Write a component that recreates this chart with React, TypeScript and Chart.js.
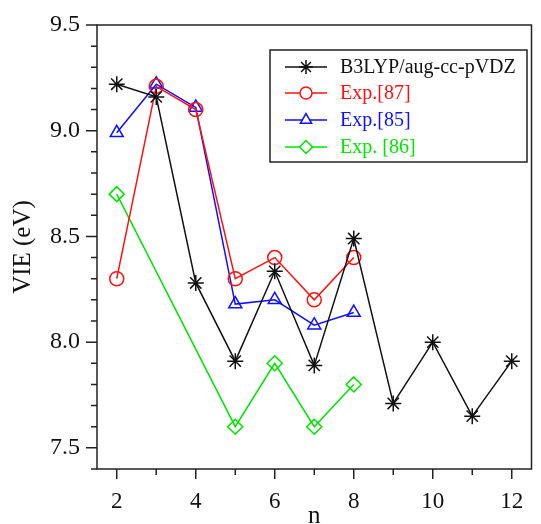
import { useEffect, useRef } from "react";
import { Chart, registerables } from "chart.js";

Chart.register(...registerables);

// ---- data ----
const b3lypN = [2, 3, 4, 5, 6, 7, 8, 9, 10, 11, 12];
const b3lypVIE = [9.22, 9.16, 8.28, 7.91, 8.335, 7.89, 8.49, 7.71, 8.0, 7.65, 7.91];
const exp87N = [2, 3, 4, 5, 6, 7, 8];
const exp87VIE = [8.3, 9.21, 9.1, 8.3, 8.4, 8.2, 8.4];
const exp85N = [2, 3, 4, 5, 6, 7, 8];
const exp85VIE = [8.99, 9.22, 9.11, 8.18, 8.2, 8.08, 8.14];
const exp86N = [2, 5, 6, 7, 8];
const exp86VIE = [8.7, 7.6, 7.9, 7.6, 7.8];
const xTicks = [2, 4, 6, 8, 10, 12];
const xMinorTicks = [3, 5, 7, 9, 11];
const yTicks = [7.5, 8.0, 8.5, 9.0, 9.5];
const yMinorTicks = [7.4, 7.6, 7.7, 7.8, 7.9, 8.1, 8.2, 8.3, 8.4, 8.6, 8.7, 8.8, 8.9, 9.1, 9.2, 9.3, 9.4];
const seriesLabels = ["B3LYP/aug-cc-pVDZ", "Exp.[87]", "Exp.[85]", "Exp. [86]"];

const BLACK = "#111111";
const RED = "#ff1010";
const BLUE = "#1010ff";
const GREEN = "#00e600";
const FONT = "'Liberation Serif', 'Times New Roman', serif";

const seriesColors = [BLACK, RED, BLUE, GREEN];
const seriesStyles = ["star", "circle", "triangle", "rectRot"];
const seriesRadius = [8, 7, 7.5, 7.5];

function toPts(xs: number[], ys: number[]) {
  return xs.map((x, i) => ({ x, y: ys[i] }));
}

function drawMarker(ctx: CanvasRenderingContext2D, style: string, x: number, y: number, r: number) {
  ctx.beginPath();
  if (style === "star") {
    for (let k = 0; k < 4; k++) {
      const a = (k * Math.PI) / 4;
      ctx.moveTo(x - Math.cos(a) * r, y - Math.sin(a) * r);
      ctx.lineTo(x + Math.cos(a) * r, y + Math.sin(a) * r);
    }
    ctx.stroke();
    return;
  }
  if (style === "circle") {
    ctx.arc(x, y, r, 0, Math.PI * 2);
  } else if (style === "triangle") {
    let rad = 0;
    ctx.moveTo(x + Math.sin(rad) * r, y - Math.cos(rad) * r);
    rad += (2 * Math.PI) / 3;
    ctx.lineTo(x + Math.sin(rad) * r, y - Math.cos(rad) * r);
    rad += (2 * Math.PI) / 3;
    ctx.lineTo(x + Math.sin(rad) * r, y - Math.cos(rad) * r);
    ctx.closePath();
  } else if (style === "rectRot") {
    ctx.moveTo(x - r, y);
    ctx.lineTo(x, y - r);
    ctx.lineTo(x + r, y);
    ctx.lineTo(x, y + r);
    ctx.closePath();
  }
  ctx.fillStyle = "#ffffff";
  ctx.fill();
  ctx.stroke();
}

const framePlugin = {
  id: "framePlugin",
  afterDraw(chart: any) {
    const { ctx, chartArea } = chart;
    const { left, right, top, bottom } = chartArea;
    const xs = chart.scales.x;
    const ys = chart.scales.y;
    ctx.save();
    ctx.strokeStyle = "#222222";
    ctx.lineWidth = 1.5;
    ctx.strokeRect(left, top, right - left, bottom - top);
    ctx.beginPath();
    for (const v of yTicks) {
      const p = ys.getPixelForValue(v);
      ctx.moveTo(left - 11, p);
      ctx.lineTo(left, p);
    }
    for (const v of yMinorTicks) {
      const p = ys.getPixelForValue(v);
      ctx.moveTo(left - 6, p);
      ctx.lineTo(left, p);
    }
    for (const v of xTicks) {
      const p = xs.getPixelForValue(v);
      ctx.moveTo(p, bottom);
      ctx.lineTo(p, bottom + 10);
    }
    for (const v of xMinorTicks) {
      const p = xs.getPixelForValue(v);
      ctx.moveTo(p, bottom);
      ctx.lineTo(p, bottom + 6);
    }
    ctx.stroke();

    // legend
    const lx = 270, ly = 50, lw = 257, lh = 112;
    ctx.lineWidth = 1.5;
    ctx.strokeStyle = "#222222";
    ctx.strokeRect(lx, ly, lw, lh);
    const rows = [67, 93, 120, 147];
    ctx.font = `20px ${FONT}`;
    ctx.textBaseline = "middle";
    ctx.textAlign = "left";
    for (let i = 0; i < 4; i++) {
      const yy = rows[i];
      ctx.strokeStyle = seriesColors[i];
      ctx.lineWidth = 1.5;
      ctx.beginPath();
      ctx.moveTo(285, yy);
      ctx.lineTo(327, yy);
      ctx.stroke();
      drawMarker(ctx, seriesStyles[i], 306, yy, seriesRadius[i] - 1);
      ctx.fillStyle = seriesColors[i];
      ctx.fillText(seriesLabels[i], 340, yy + 1);
    }
    ctx.restore();
  },
};

export default function App() {
  const ref = useRef<HTMLCanvasElement | null>(null);
  useEffect(() => {
    if (!ref.current) return;
    const mk = (label: string, data: any[], i: number) => ({
      label,
      data,
      borderColor: seriesColors[i],
      backgroundColor: "rgba(255,255,255,0)",
      borderWidth: 1.5,
      pointStyle: seriesStyles[i],
      pointRadius: seriesRadius[i],
      pointBorderWidth: 1.5,
      pointBorderColor: seriesColors[i],
      pointBackgroundColor: "rgba(255,255,255,0)",
      tension: 0,
      fill: false,
    });
    const chart = new Chart(ref.current, {
      type: "line",
      data: {
        datasets: [
          mk(seriesLabels[0], toPts(b3lypN, b3lypVIE), 0),
          mk(seriesLabels[1], toPts(exp87N, exp87VIE), 1),
          mk(seriesLabels[2], toPts(exp85N, exp85VIE), 2),
          mk(seriesLabels[3], toPts(exp86N, exp86VIE), 3),
        ],
      },
      options: {
        animation: false,
        responsive: false,
        devicePixelRatio: 1,
        layout: { padding: { top: 25, right: 2, bottom: 0, left: 0 } },
        plugins: { legend: { display: false }, tooltip: { enabled: false } },
        scales: {
          x: {
            type: "linear",
            min: 1.5,
            max: 12.5,
            grid: { display: false, tickLength: 16 },
            border: { display: false },
            afterBuildTicks: (s: any) => {
              s.ticks = xTicks.map((v) => ({ value: v }));
            },
            afterFit: (s: any) => {
              s.height = 55;
            },
            ticks: {
              color: "#111111",
              padding: 3,
              maxRotation: 0,
              font: { family: FONT, size: 23 },
              callback: (v: any) => String(v),
            },
            title: {
              display: true,
              text: "n",
              color: "#111111",
              padding: { top: 0, bottom: 0 },
              font: { family: FONT, size: 25, lineHeight: 0.6 },
            },
          },
          y: {
            type: "linear",
            min: 7.4,
            max: 9.5,
            grid: { display: false, tickLength: 15 },
            border: { display: false },
            afterBuildTicks: (s: any) => {
              s.ticks = yTicks.map((v) => ({ value: v }));
            },
            afterFit: (s: any) => {
              s.width = 97;
            },
            ticks: {
              color: "#111111",
              padding: 2,
              font: { family: FONT, size: 24 },
              callback: (v: any) => Number(v).toFixed(1),
            },
            title: {
              display: true,
              text: "VIE (eV)",
              color: "#111111",
              padding: { top: 8, bottom: 0 },
              font: { family: FONT, size: 25 },
            },
          },
        },
      },
      plugins: [framePlugin],
    });
    return () => chart.destroy();
  }, []);
  return (
    <div style={{ position: "fixed", left: 0, top: 0, width: 541, height: 524, background: "#fff" }}>
      <canvas ref={ref} width={541} height={524} style={{ display: "block" }} />
    </div>
  );
}
